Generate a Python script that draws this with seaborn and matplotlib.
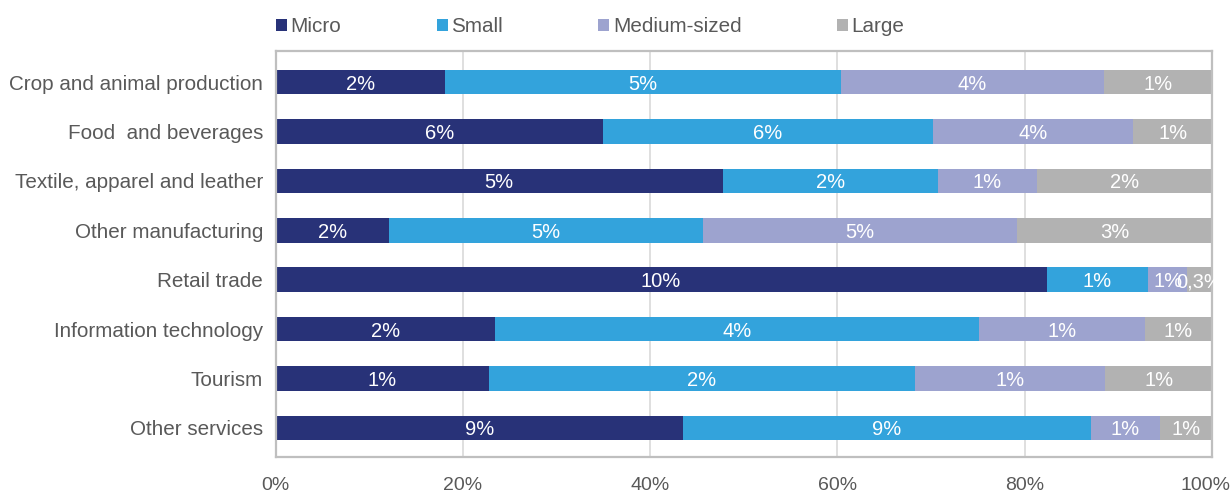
import matplotlib
matplotlib.use("Agg")
import matplotlib.pyplot as plt
import matplotlib.transforms as mtransforms
from matplotlib.patches import Patch
import numpy as np
import pandas as pd
import seaborn as sns

# Sectors (top to bottom) and firm-size groups
sectors = [
    "Crop and animal production",
    "Food  and beverages",
    "Textile, apparel and leather",
    "Other manufacturing",
    "Retail trade",
    "Information technology",
    "Tourism",
    "Other services",
]
sizes = ["Micro", "Small", "Medium-sized", "Large"]

# Value (%) per sector for each firm size
micro = [2.30, 5.95, 4.88, 1.82, 10.30, 1.83, 1.14, 8.87]
small = [5.37, 5.98, 2.34, 5.03, 1.36, 4.02, 2.28, 8.89]
medium = [3.56, 3.64, 1.08, 5.04, 0.52, 1.38, 1.02, 1.49]
large = [1.47, 1.43, 1.91, 3.12, 0.33, 0.56, 0.57, 1.14]

colors = ["#283278", "#33a3dc", "#9da3cf", "#b2b2b2"]
xticks = [0, 20, 40, 60, 80, 100]
xticklabels = ["0%", "20%", "40%", "60%", "80%", "100%"]

text_color = "#595959"

sns.set_style("white")
plt.rcParams["font.family"] = ["Liberation Sans", "DejaVu Sans"]

values = np.array([micro, small, medium, large]).T  # rows: sectors
shares = values / values.sum(axis=1, keepdims=True) * 100
cum = np.cumsum(shares, axis=1)

fig = plt.figure(figsize=(12.31, 4.93), dpi=100)
ax = fig.add_axes([275.5 / 1231, 1 - 457 / 493, (1212 - 275.5) / 1231, (457 - 51) / 493])

# Stacked bars: draw cumulative totals from the outermost segment inward
for j in reversed(range(len(sizes))):
    df = pd.DataFrame({"sector": sectors, "cum": cum[:, j]})
    sns.barplot(data=df, x="cum", y="sector", orient="h", color=colors[j],
                saturation=1, width=0.5, ax=ax, zorder=2, linewidth=0)

def fmt(v):
    if v < 0.5:
        return f"{v:.1f}%".replace(".", ",")
    return f"{v:.0f}%"

for i in range(len(sectors)):
    for j in range(len(sizes)):
        xc = cum[i, j] - shares[i, j] / 2
        ax.text(xc, i + 0.04, fmt(values[i, j]), ha="center", va="center",
                color="white", fontsize=14.5, zorder=3)

ax.set_xlim(0, 100)
ax.set_ylim(len(sectors) - 1 + 0.59, -0.63)
ax.set_xticks(xticks)
ax.set_xticklabels(xticklabels)
ax.set_xlabel("")
ax.set_ylabel("")
ax.xaxis.grid(True, color="#d9d9d9", linewidth=1.2, zorder=0)
ax.set_axisbelow(True)
ax.tick_params(axis="x", length=0, pad=14.5, labelsize=14, labelcolor=text_color)
ax.tick_params(axis="y", length=0, pad=9, labelsize=14.9, labelcolor=text_color)
for s in ax.spines.values():
    s.set_visible(True)
    s.set_color("#bfbfbf")
    s.set_linewidth(1.6)

# Keep the last tick label inside the canvas
last = ax.get_xticklabels()[-1]
last.set_transform(last.get_transform() +
                   mtransforms.ScaledTranslation(-7 / 100, 0, fig.dpi_scale_trans))

handles = [Patch(facecolor=c, edgecolor="none", label=l) for c, l in zip(colors, sizes)]
leg = fig.legend(handles=handles, loc="center left", bbox_to_anchor=(276 / 1231, 1 - 27 / 493),
                 ncol=4, frameon=False, fontsize=14.9, handlelength=0.53, handleheight=0.53,
                 handletextpad=0.18, columnspacing=4.6, borderpad=0, borderaxespad=0)
for t in leg.get_texts():
    t.set_color(text_color)

fig.savefig("out.png", dpi=100)
